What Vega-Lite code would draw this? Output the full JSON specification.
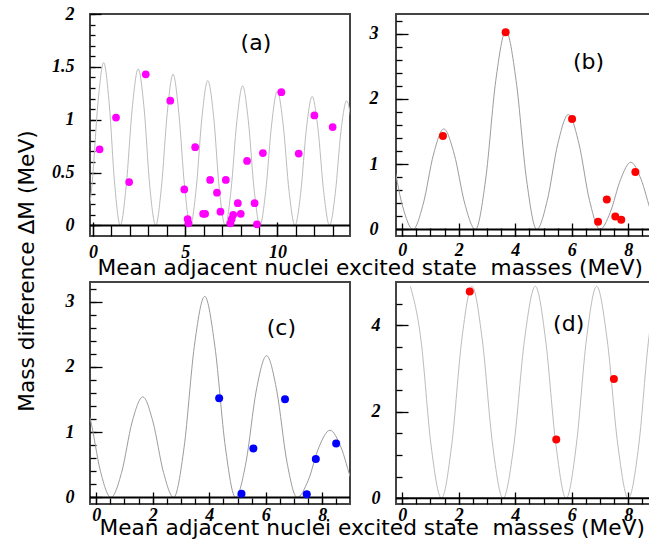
{
  "$schema": "https://vega.github.io/schema/vega-lite/v6.json",
  "background": "white",
  "padding": {"left": 15, "top": 4, "right": 0, "bottom": 0},
  "config": {
    "view": {"stroke": "#444", "strokeWidth": 2},
    "axis": {
      "domain": false, "grid": false,
      "labelFont": "Liberation Serif", "labelFontStyle": "italic", "labelFontWeight": "bold",
      "labelFontSize": 18, "labelColor": "#000", "labelOverlap": false, "labelFlush": false,
      "tickColor": "#000", "tickWidth": 1.3,
      "titleFont": "DejaVu Sans", "titleFontWeight": "normal", "titleFontSize": 21.7, "titleColor": "#000",
      "format": ".1~f"
    },
    "text": {"font": "DejaVu Sans", "fontSize": 22, "color": "#000"}
  },
  "datasets": {
    "curveA": [
      {"x": -0.36, "y": 0}, {"x": -0.05, "y": 0.385}, {"x": 0.27, "y": 1.155}, {"x": 0.58, "y": 1.54}, {"x": 0.88, "y": 1.155}, {"x": 1.18, "y": 0.385}, {"x": 1.48, "y": 0},
      {"x": 1.80, "y": 0.37}, {"x": 2.13, "y": 1.11}, {"x": 2.45, "y": 1.48}, {"x": 2.77, "y": 1.11}, {"x": 3.08, "y": 0.37}, {"x": 3.40, "y": 0},
      {"x": 3.71, "y": 0.36}, {"x": 4.03, "y": 1.07}, {"x": 4.34, "y": 1.43}, {"x": 4.65, "y": 1.07}, {"x": 4.97, "y": 0.36}, {"x": 5.28, "y": 0},
      {"x": 5.59, "y": 0.34}, {"x": 5.91, "y": 1.03}, {"x": 6.22, "y": 1.37}, {"x": 6.54, "y": 1.03}, {"x": 6.85, "y": 0.34}, {"x": 7.17, "y": 0},
      {"x": 7.48, "y": 0.33}, {"x": 7.80, "y": 0.99}, {"x": 8.11, "y": 1.32}, {"x": 8.42, "y": 0.99}, {"x": 8.74, "y": 0.33}, {"x": 9.05, "y": 0},
      {"x": 9.36, "y": 0.32}, {"x": 9.68, "y": 0.95}, {"x": 9.99, "y": 1.27}, {"x": 10.31, "y": 0.95}, {"x": 10.63, "y": 0.32}, {"x": 10.95, "y": 0},
      {"x": 11.26, "y": 0.31}, {"x": 11.57, "y": 0.92}, {"x": 11.88, "y": 1.22}, {"x": 12.19, "y": 0.92}, {"x": 12.51, "y": 0.31}, {"x": 12.82, "y": 0},
      {"x": 13.13, "y": 0.30}, {"x": 13.44, "y": 0.89}, {"x": 13.75, "y": 1.18}, {"x": 14.06, "y": 0.89}, {"x": 14.37, "y": 0.30}, {"x": 14.68, "y": 0}
    ],
    "dotsA": [
      {"x": 0.36, "y": 0.72}, {"x": 1.25, "y": 1.02}, {"x": 1.96, "y": 0.41}, {"x": 2.86, "y": 1.43},
      {"x": 4.19, "y": 1.18}, {"x": 4.95, "y": 0.34}, {"x": 5.13, "y": 0.06}, {"x": 5.18, "y": 0.02},
      {"x": 5.54, "y": 0.74}, {"x": 5.97, "y": 0.11}, {"x": 6.08, "y": 0.11}, {"x": 6.35, "y": 0.43},
      {"x": 6.72, "y": 0.31}, {"x": 6.91, "y": 0.13}, {"x": 7.2, "y": 0.43}, {"x": 7.45, "y": 0.02},
      {"x": 7.52, "y": 0.06}, {"x": 7.6, "y": 0.1}, {"x": 7.85, "y": 0.21}, {"x": 8.01, "y": 0.11},
      {"x": 8.35, "y": 0.61}, {"x": 8.76, "y": 0.21}, {"x": 8.89, "y": 0.01}, {"x": 9.21, "y": 0.685},
      {"x": 10.21, "y": 1.26}, {"x": 11.15, "y": 0.68}, {"x": 12.0, "y": 1.04}, {"x": 12.99, "y": 0.93}
    ],
    "curveB": [
      {"x": -0.72, "y": 1.44}, {"x": -0.35, "y": 1.08}, {"x": 0.01, "y": 0.36}, {"x": 0.38, "y": 0},
      {"x": 0.74, "y": 0.385}, {"x": 1.11, "y": 1.155}, {"x": 1.47, "y": 1.54}, {"x": 1.84, "y": 1.155}, {"x": 2.22, "y": 0.385}, {"x": 2.59, "y": 0},
      {"x": 2.95, "y": 0.76}, {"x": 3.31, "y": 2.28}, {"x": 3.67, "y": 3.04}, {"x": 4.03, "y": 2.28}, {"x": 4.40, "y": 0.76}, {"x": 4.76, "y": 0},
      {"x": 5.13, "y": 0.44}, {"x": 5.51, "y": 1.32}, {"x": 5.88, "y": 1.76}, {"x": 6.25, "y": 1.32}, {"x": 6.63, "y": 0.44}, {"x": 7.0, "y": 0},
      {"x": 7.36, "y": 0.26}, {"x": 7.73, "y": 0.77}, {"x": 8.09, "y": 1.03}, {"x": 8.45, "y": 0.77}, {"x": 8.82, "y": 0.26}, {"x": 9.18, "y": 0}
    ],
    "dotsB": [
      {"x": 1.44, "y": 1.43}, {"x": 3.66, "y": 3.02}, {"x": 6.01, "y": 1.69}, {"x": 6.93, "y": 0.12},
      {"x": 7.24, "y": 0.46}, {"x": 7.54, "y": 0.2}, {"x": 7.75, "y": 0.15}, {"x": 8.25, "y": 0.88}
    ],
    "curveC": [
      {"x": -0.58, "y": 1.6}, {"x": -0.21, "y": 1.2}, {"x": 0.15, "y": 0.4}, {"x": 0.52, "y": 0},
      {"x": 0.90, "y": 0.385}, {"x": 1.27, "y": 1.155}, {"x": 1.65, "y": 1.54}, {"x": 2.01, "y": 1.155}, {"x": 2.38, "y": 0.385}, {"x": 2.74, "y": 0},
      {"x": 3.11, "y": 0.77}, {"x": 3.47, "y": 2.31}, {"x": 3.84, "y": 3.08}, {"x": 4.20, "y": 2.31}, {"x": 4.57, "y": 0.77}, {"x": 4.93, "y": 0},
      {"x": 5.30, "y": 0.54}, {"x": 5.66, "y": 1.63}, {"x": 6.03, "y": 2.17}, {"x": 6.39, "y": 1.63}, {"x": 6.75, "y": 0.54}, {"x": 7.11, "y": 0},
      {"x": 7.50, "y": 0.26}, {"x": 7.88, "y": 0.77}, {"x": 8.27, "y": 1.03}, {"x": 8.66, "y": 0.77}, {"x": 9.04, "y": 0.26}, {"x": 9.43, "y": 0}
    ],
    "dotsC": [
      {"x": 4.35, "y": 1.52}, {"x": 6.68, "y": 1.505}, {"x": 5.56, "y": 0.75}, {"x": 5.14, "y": 0.057},
      {"x": 7.45, "y": 0.05}, {"x": 7.77, "y": 0.59}, {"x": 8.49, "y": 0.825}
    ],
    "curveD": [
      {"x": 0.29, "y": 4.9}, {"x": 0.66, "y": 3.68}, {"x": 1.02, "y": 1.23}, {"x": 1.39, "y": 0},
      {"x": 1.75, "y": 1.23}, {"x": 2.11, "y": 3.68}, {"x": 2.47, "y": 4.9}, {"x": 2.83, "y": 3.68}, {"x": 3.20, "y": 1.23}, {"x": 3.57, "y": 0},
      {"x": 3.95, "y": 1.23}, {"x": 4.33, "y": 3.68}, {"x": 4.71, "y": 4.9}, {"x": 5.07, "y": 3.68}, {"x": 5.44, "y": 1.23}, {"x": 5.80, "y": 0},
      {"x": 6.16, "y": 1.23}, {"x": 6.52, "y": 3.68}, {"x": 6.88, "y": 4.9}, {"x": 7.25, "y": 3.68}, {"x": 7.63, "y": 1.23}, {"x": 8.0, "y": 0},
      {"x": 8.37, "y": 1.23}, {"x": 8.73, "y": 3.72}, {"x": 9.1, "y": 4.9}
    ],
    "dotsD": [
      {"x": 2.39, "y": 4.78}, {"x": 5.45, "y": 1.36}, {"x": 7.49, "y": 2.76}
    ]
  },
  "columns": 2,
  "spacing": {"row": 46, "column": 46},
  "bounds": "flush",
  "concat": [
    {
      "width": 260, "height": 222,
      "resolve": {"axis": {"x": "independent", "y": "independent"}},
      "layer": [
        {
          "data": {"name": "curveA"},
          "mark": {"type": "line", "interpolate": "monotone", "color": "#bcbcbc", "strokeWidth": 1, "clip": true},
          "encoding": {
            "x": {"field": "x", "type": "quantitative",
              "scale": {"domain": [-0.16, 13.93], "nice": false, "zero": false},
              "axis": {
                "orient": "bottom", "values": [0, 5, 10], "tickSize": -14, "labelPadding": 21,
                "title": "Mean adjacent nuclei excited state\u00a0 masses (MeV)",
                "titleX": 7, "titleY": 38, "titleAlign": "left", "titleAnchor": "start", "titleBaseline": "alphabetic"
              }},
            "y": {"field": "y", "type": "quantitative",
              "scale": {"domain": [-0.1, 2.0], "nice": false, "zero": false},
              "axis": {
                "orient": "left", "values": [0, 0.5, 1, 1.5, 2], "tickSize": -11, "labelPadding": 27,
                "title": "Mass difference ΔM (MeV)",
                "titleX": -56.3, "titleY": 256.5, "titleAngle": -90, "titleAlign": "center", "titleBaseline": "alphabetic"
              }}
          }
        },
        {
          "data": {"values": [{"zero": 0}]},
          "mark": {"type": "rule", "color": "#000", "strokeWidth": 2},
          "encoding": {"y": {"field": "zero", "type": "quantitative",
            "axis": {"orient": "left", "values": [0, 0.1, 0.2, 0.3, 0.4, 0.5, 0.6, 0.7, 0.8, 0.9, 1, 1.1, 1.2, 1.3, 1.4, 1.5, 1.6, 1.7, 1.8, 1.9, 2], "tickSize": -5, "labels": false, "title": null}}}
        },
        {
          "data": {"name": "dotsA"},
          "mark": {"type": "circle", "color": "#ff00ff", "opacity": 1, "size": 60},
          "encoding": {
            "x": {"field": "x", "type": "quantitative",
              "axis": {"orient": "bottom", "values": [0, 1, 2, 3, 4, 5, 6, 7, 8, 9, 10, 11, 12, 13], "tickSize": -11, "labels": false, "title": null}},
            "y": {"field": "y", "type": "quantitative", "axis": null}
          }
        },
        {
          "data": {"values": [{"label": "(a)"}]},
          "mark": {"type": "text", "align": "center", "baseline": "middle"},
          "encoding": {"x": {"datum": 8.83, "axis": null}, "y": {"datum": 1.73, "axis": null}, "text": {"field": "label"}}
        }
      ]
    },
    {
      "width": 260, "height": 222,
      "resolve": {"axis": {"x": "independent", "y": "independent"}},
      "layer": [
        {
          "data": {"name": "curveB"},
          "mark": {"type": "line", "interpolate": "monotone", "color": "#9c9c9c", "strokeWidth": 1, "clip": true},
          "encoding": {
            "x": {"field": "x", "type": "quantitative",
              "scale": {"domain": [-0.22, 8.98], "nice": false, "zero": false},
              "axis": {"orient": "bottom", "values": [0, 2, 4, 6, 8], "tickSize": -13, "labelPadding": 18, "title": null}},
            "y": {"field": "y", "type": "quantitative",
              "scale": {"domain": [-0.1, 3.3], "nice": false, "zero": false},
              "axis": {"orient": "left", "values": [0, 1, 2, 3], "tickSize": -12, "labelPadding": 30, "title": null}}
          }
        },
        {
          "data": {"values": [{"zero": 0}]},
          "mark": {"type": "rule", "color": "#000", "strokeWidth": 2},
          "encoding": {"y": {"field": "zero", "type": "quantitative",
            "axis": {"orient": "left", "values": [0, 0.2, 0.4, 0.6, 0.8, 1, 1.2, 1.4, 1.6, 1.8, 2, 2.2, 2.4, 2.6, 2.8, 3, 3.2], "tickSize": -6, "labels": false, "title": null}}}
        },
        {
          "data": {"name": "dotsB"},
          "mark": {"type": "circle", "color": "#ff0000", "opacity": 1, "size": 64},
          "encoding": {
            "x": {"field": "x", "type": "quantitative",
              "axis": {"orient": "bottom", "values": [0, 0.5, 1, 1.5, 2, 2.5, 3, 3.5, 4, 4.5, 5, 5.5, 6, 6.5, 7, 7.5, 8, 8.5], "tickSize": -8, "labels": false, "title": null}},
            "y": {"field": "y", "type": "quantitative", "axis": null}
          }
        },
        {
          "data": {"values": [{"label": "(b)"}]},
          "mark": {"type": "text", "align": "center", "baseline": "middle"},
          "encoding": {"x": {"datum": 6.59, "axis": null}, "y": {"datum": 2.57, "axis": null}, "text": {"field": "label"}}
        }
      ]
    },
    {
      "width": 260, "height": 222,
      "resolve": {"axis": {"x": "independent", "y": "independent"}},
      "layer": [
        {
          "data": {"name": "curveC"},
          "mark": {"type": "line", "interpolate": "monotone", "color": "#9c9c9c", "strokeWidth": 1, "clip": true},
          "encoding": {
            "x": {"field": "x", "type": "quantitative",
              "scale": {"domain": [-0.22, 8.98], "nice": false, "zero": false},
              "axis": {
                "orient": "bottom", "values": [0, 2, 4, 6, 8], "tickSize": -12, "labelPadding": 14,
                "title": "Mean adjacent nuclei excited state\u00a0 masses (MeV)",
                "titleX": 9, "titleY": 30, "titleAlign": "left", "titleAnchor": "start", "titleBaseline": "alphabetic"
              }},
            "y": {"field": "y", "type": "quantitative",
              "scale": {"domain": [-0.1, 3.3], "nice": false, "zero": false},
              "axis": {"orient": "left", "values": [0, 1, 2, 3], "tickSize": -12, "labelPadding": 28, "title": null}}
          }
        },
        {
          "data": {"values": [{"zero": 0}]},
          "mark": {"type": "rule", "color": "#000", "strokeWidth": 2},
          "encoding": {"y": {"field": "zero", "type": "quantitative",
            "axis": {"orient": "left", "values": [0, 0.2, 0.4, 0.6, 0.8, 1, 1.2, 1.4, 1.6, 1.8, 2, 2.2, 2.4, 2.6, 2.8, 3, 3.2], "tickSize": -6, "labels": false, "title": null}}}
        },
        {
          "data": {"name": "dotsC"},
          "mark": {"type": "circle", "color": "#0000ff", "opacity": 1, "size": 64},
          "encoding": {
            "x": {"field": "x", "type": "quantitative",
              "axis": {"orient": "bottom", "values": [0, 0.5, 1, 1.5, 2, 2.5, 3, 3.5, 4, 4.5, 5, 5.5, 6, 6.5, 7, 7.5, 8, 8.5], "tickSize": -6, "labels": false, "title": null}},
            "y": {"field": "y", "type": "quantitative", "axis": null}
          }
        },
        {
          "data": {"values": [{"label": "(c)"}]},
          "mark": {"type": "text", "align": "center", "baseline": "middle"},
          "encoding": {"x": {"datum": 6.55, "axis": null}, "y": {"datum": 2.59, "axis": null}, "text": {"field": "label"}}
        }
      ]
    },
    {
      "width": 260, "height": 222,
      "resolve": {"axis": {"x": "independent", "y": "independent"}},
      "layer": [
        {
          "data": {"name": "curveD"},
          "mark": {"type": "line", "interpolate": "monotone", "color": "#bcbcbc", "strokeWidth": 1, "clip": true},
          "encoding": {
            "x": {"field": "x", "type": "quantitative",
              "scale": {"domain": [-0.22, 8.98], "nice": false, "zero": false},
              "axis": {"orient": "bottom", "values": [0, 2, 4, 6, 8], "tickSize": -12, "labelPadding": 14, "title": null}},
            "y": {"field": "y", "type": "quantitative",
              "scale": {"domain": [-0.13, 5], "nice": false, "zero": false},
              "axis": {"orient": "left", "values": [0, 2, 4], "tickSize": -12, "labelPadding": 28, "title": null}}
          }
        },
        {
          "data": {"values": [{"zero": 0}]},
          "mark": {"type": "rule", "color": "#000", "strokeWidth": 2},
          "encoding": {"y": {"field": "zero", "type": "quantitative",
            "axis": {"orient": "left", "values": [0, 0.5, 1, 1.5, 2, 2.5, 3, 3.5, 4, 4.5], "tickSize": -6, "labels": false, "title": null}}}
        },
        {
          "data": {"name": "dotsD"},
          "mark": {"type": "circle", "color": "#ff0000", "opacity": 1, "size": 64},
          "encoding": {
            "x": {"field": "x", "type": "quantitative",
              "axis": {"orient": "bottom", "values": [0, 0.5, 1, 1.5, 2, 2.5, 3, 3.5, 4, 4.5, 5, 5.5, 6, 6.5, 7, 7.5, 8, 8.5], "tickSize": -6, "labels": false, "title": null}},
            "y": {"field": "y", "type": "quantitative", "axis": null}
          }
        },
        {
          "data": {"values": [{"label": "(d)"}]},
          "mark": {"type": "text", "align": "center", "baseline": "middle"},
          "encoding": {"x": {"datum": 5.89, "axis": null}, "y": {"datum": 4.04, "axis": null}, "text": {"field": "label"}}
        }
      ]
    }
  ]
}
